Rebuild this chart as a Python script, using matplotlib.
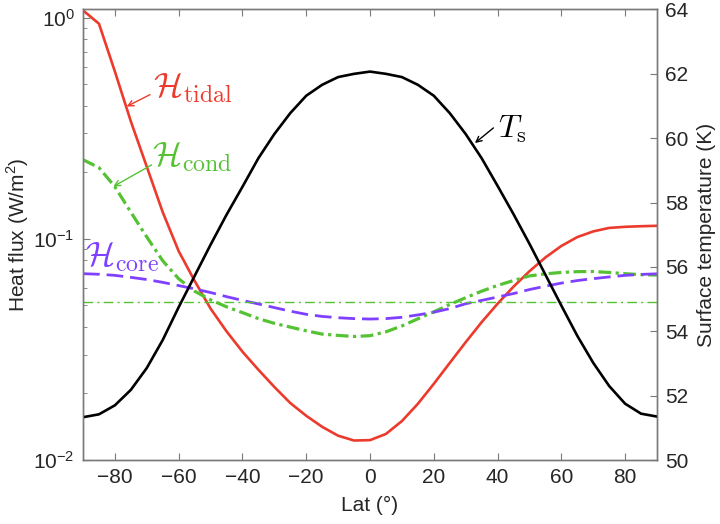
import matplotlib
matplotlib.use("Agg")
import matplotlib.pyplot as plt
from matplotlib.ticker import LogLocator, NullFormatter

plt.rcParams['font.family'] = ['Liberation Sans', 'DejaVu Sans']
plt.rcParams['mathtext.fontset'] = 'custom'
plt.rcParams['mathtext.rm'] = 'Liberation Sans'

# latitude grid (deg)
lat = [-90, -85, -80, -75, -70, -65, -60, -55, -50, -45, -40, -35, -30, -25, -20, -15, -10, -5,
       0, 5, 10, 15, 20, 25, 30, 35, 40, 45, 50, 55, 60, 65, 70, 75, 80, 85, 90]

# heat fluxes (W/m^2)
h_tidal = [1.08, 0.94, 0.571, 0.34, 0.212, 0.132, 0.088, 0.0646, 0.0484, 0.0382, 0.0309, 0.0256,
           0.0214, 0.0181, 0.01585, 0.01413, 0.01288, 0.01225, 0.0123, 0.01312, 0.0150, 0.01795,
           0.0221, 0.02748, 0.0341, 0.0420, 0.0509, 0.0608, 0.0714, 0.0824, 0.0929, 0.1019,
           0.1081, 0.1121, 0.1134, 0.1141, 0.1146]
h_cond = [0.228, 0.21, 0.172, 0.132, 0.102, 0.0796, 0.066, 0.058, 0.053, 0.0493, 0.0464, 0.0436,
          0.0415, 0.0399, 0.0384, 0.0371, 0.0366, 0.0362, 0.0365, 0.038, 0.0404, 0.0435, 0.0468,
          0.0505, 0.0542, 0.058, 0.0616, 0.0648, 0.068, 0.0695, 0.0705, 0.0711, 0.0712, 0.0705,
          0.0696, 0.0689, 0.0686]
h_core = [0.0696, 0.0692, 0.0684, 0.067, 0.0655, 0.0636, 0.0615, 0.0594, 0.0572, 0.0548, 0.0527,
          0.0508, 0.0489, 0.0471, 0.0456, 0.0446, 0.044, 0.0436, 0.0434, 0.0436, 0.0442, 0.0453,
          0.0466, 0.0484, 0.0509, 0.0527, 0.0546, 0.0566, 0.059, 0.0611, 0.0631, 0.0648, 0.0661,
          0.0673, 0.0684, 0.0691, 0.0695]
h_mean = 0.052

# surface temperature (K)
t_surf = [51.33, 51.42, 51.70, 52.18, 52.86, 53.73, 54.75, 55.72, 56.69, 57.62, 58.49, 59.38,
          60.13, 60.78, 61.32, 61.66, 61.90, 62.00, 62.07, 62.00, 61.90, 61.66, 61.32, 60.78,
          60.13, 59.38, 58.52, 57.64, 56.72, 55.76, 54.80, 53.86, 53.02, 52.30, 51.75, 51.44,
          51.35]

red = '#ec3a2c'
green = '#55c234'
purple = '#8040ff'
axcol = '#7a7a7a'
txtcol = '#262626'

fig = plt.figure(figsize=(7.2, 5.24), dpi=100)
ax = fig.add_axes([0.1153, 0.1221, 0.7972, 0.8598])
ax2 = ax.twinx()

ax.plot(lat, h_tidal, color=red, lw=1.9)
ax.plot(lat, h_cond, color=green, lw=2.3, ls=(0, (4, 1.4, 1, 1.4)))
ax.plot(lat, h_core, color=purple, lw=2.0, ls=(0, (6, 2.5)))
ax.axhline(h_mean, color=green, lw=1.0, ls=(0, (7, 3, 1.5, 3)))
ax2.plot(lat, t_surf, color='black', lw=1.9)

ax.set_yscale('log')
ax.set_xlim(-90, 90)
ax.set_ylim(0.01, 1.09)
ax2.set_ylim(50, 64)
ax.set_xticks([-80, -60, -40, -20, 0, 20, 40, 60, 80])
ax2.set_yticks([50, 52, 54, 56, 58, 60, 62, 64])
ax.yaxis.set_minor_locator(LogLocator(base=10, subs=range(2, 10)))
ax.yaxis.set_minor_formatter(NullFormatter())

for a in (ax, ax2):
    for s in a.spines.values():
        s.set_color(axcol)
        s.set_linewidth(1.0)
ax.tick_params(which='both', direction='in', top=True, right=False, colors=axcol,
               labelcolor=txtcol, labelsize=15, pad=6)
ax.tick_params(which='major', length=5)
ax.tick_params(which='minor', length=3)
ax2.tick_params(direction='in', length=5, colors=axcol, labelcolor=txtcol, labelsize=15, pad=6)

ax.set_xlabel('Lat (°)', fontsize=15, color=txtcol, labelpad=6)
ax.set_ylabel('Heat flux (W/m$^2$)', fontsize=15, color=txtcol, labelpad=2)
ax2.set_ylabel('Surface temperature (K)', fontsize=15, color=txtcol, labelpad=6)

# labels with arrows
arr = dict(arrowstyle='->', lw=1.0, shrinkA=0, shrinkB=0)
ax.annotate('', xy=(-76.3, 0.397), xytext=(-69.0, 0.449),
            arrowprops=dict(arr, color=red))
ax.text(-68.0, 0.482, r'$\mathcal{H}_{\rm tidal}$', color=red, fontsize=24.5,
        ha='left', va='center', math_fontfamily='cm')
ax.annotate('', xy=(-80.5, 0.1725), xytext=(-68.5, 0.216),
            arrowprops=dict(arr, color=green))
ax.text(-68.4, 0.235, r'$\mathcal{H}_{\rm cond}$', color=green, fontsize=24.5,
        ha='left', va='center', math_fontfamily='cm')
ax.text(-89.4, 0.0829, r'$\mathcal{H}_{\rm core}$', color=purple, fontsize=24.5,
        ha='left', va='center', math_fontfamily='cm')
ax2.annotate('', xy=(32.9, 59.85), xytext=(38.7, 60.32),
             arrowprops=dict(arr, color='black'))
ax2.text(40.1, 60.27, r'$T_{\rm s}$', color='black', fontsize=23,
         ha='left', va='center', math_fontfamily='cm')

fig.savefig('out.png', dpi=100)
